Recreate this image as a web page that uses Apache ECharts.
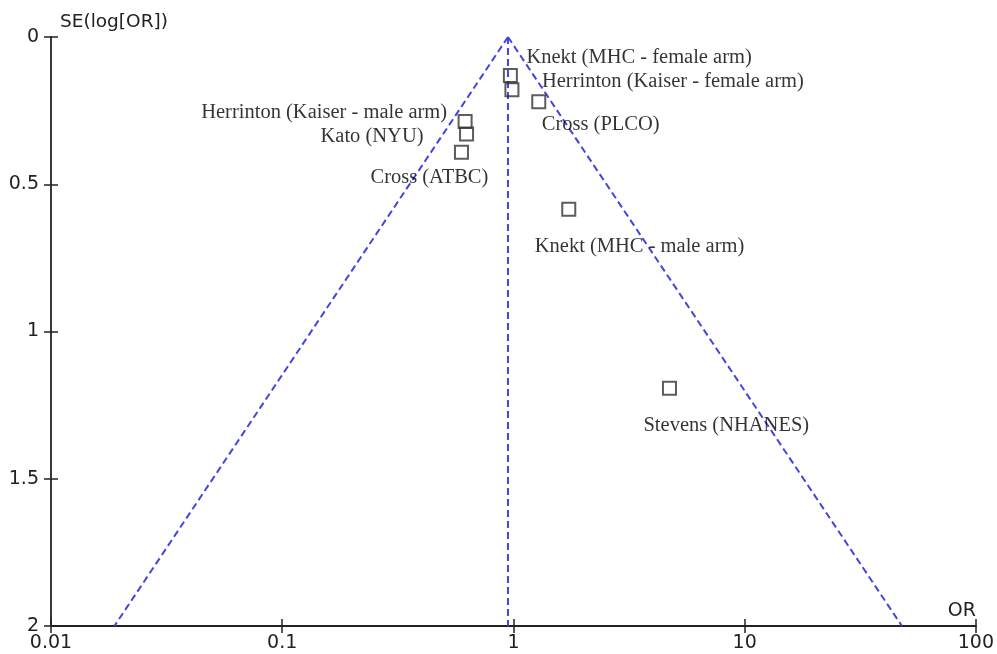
<!DOCTYPE html>
<html>
<head>
<meta charset="utf-8">
<script src="https://cdn.jsdelivr.net/npm/echarts@6/dist/echarts.min.js"></script>
<style>
html,body{margin:0;padding:0;background:#fff;}
#chart{width:997px;height:654px;}
</style>
</head>
<body>
<div id="chart"></div>
<script>
// ---- data ----
const studies = [
  'Knekt (MHC - female arm)',
  'Herrinton (Kaiser - female arm)',
  'Cross (PLCO)',
  'Herrinton (Kaiser - male arm)',
  'Kato (NYU)',
  'Cross (ATBC)',
  'Knekt (MHC - male arm)',
  'Stevens (NHANES)'
];
const oddsRatios     = [0.970, 0.985, 1.287, 0.618, 0.627, 0.596, 1.735, 4.73];
const standardErrors = [0.131, 0.179, 0.220, 0.287, 0.329, 0.391, 0.585, 1.193];

const pooledOR = 0.947;
const funnelLeftOR  = [0.947, 0.0188];
const funnelRightOR = [0.947, 47.9];
const funnelSE      = [0, 2];

const xTicks = [0.01, 0.1, 1, 10, 100];
const yTicks = [0, 0.5, 1, 1.5, 2];

// ---- label layout (pixel offsets from the marker centre) ----
const labelLayout = [
  {align:'left',  offset:[16,-18]},
  {align:'left',  offset:[30,-8]},
  {align:'left',  offset:[3,23]},
  {align:'right', offset:[-18,-9]},
  {align:'right', offset:[-43,3]},
  {align:'left',  offset:[-91,25]},
  {align:'left',  offset:[-34,37]},
  {align:'left',  offset:[-26,37]}
];

const points = studies.map((name, i) => ({
  name: name,
  value: [oddsRatios[i], standardErrors[i]],
  label: {
    show: true,
    position: 'inside',
    align: labelLayout[i].align,
    verticalAlign: 'middle',
    offset: labelLayout[i].offset,
    formatter: '{b}',
    fontFamily: '"Liberation Serif", "Times New Roman", serif',
    fontSize: 20.5,
    color: '#000'
  }
}));

const dashStyle = {color:'#4444e0', width:2, type:[7,4]};
const lineSeries = (xs, ys) => ({
  type: 'line',
  data: xs.map((x, i) => [x, ys[i]]),
  symbol: 'none',
  lineStyle: dashStyle,
  silent: true,
  z: 1
});

const sans = '"DejaVu Sans", sans-serif';
const axisColor = '#222';
const hiddenLine = {show: true, onZero: false, lineStyle: {color: 'rgba(0,0,0,0)', width: 0}};
const chart = echarts.init(document.getElementById('chart'), null, {renderer:'canvas'});
chart.setOption({
  animation: false,
  backgroundColor: '#fff',
  grid: {left: 51, right: 21, top: 37, bottom: 28, containLabel: false},
  xAxis: [{
    type: 'log', logBase: 10, min: xTicks[0], max: xTicks[xTicks.length-1],
    position: 'bottom',
    name: 'OR', nameLocation: 'end', nameGap: 1,
    nameTextStyle: {fontFamily: sans, fontSize: 19, color: axisColor, align:'right', verticalAlign:'bottom', padding:[0,1,5,0]},
    axisLine: {show: true, onZero: false, lineStyle: {color: axisColor, width:1.8}},
    axisTick: {show: true, length: 7, lineStyle: {color: axisColor, width:1.5}},
    axisLabel: {fontFamily: sans, fontSize: 19, color: axisColor, margin: 8,
      formatter: v => String(+v.toPrecision(3))},
    splitLine: {show: false}
  }, {
    type: 'log', logBase: 10, min: xTicks[0], max: xTicks[xTicks.length-1],
    position: 'bottom',
    axisLine: hiddenLine,
    axisTick: {show: true, inside: true, length: 7, lineStyle: {color: axisColor, width:1.5}},
    axisLabel: {show: false},
    splitLine: {show: false}
  }],
  yAxis: [{
    type: 'value', inverse: true, min: yTicks[0], max: yTicks[yTicks.length-1], interval: 0.5,
    position: 'left',
    name: 'SE(log[OR])', nameLocation: 'start', nameGap: 5,
    nameTextStyle: {fontFamily: sans, fontSize: 18.5, color: axisColor, align:'left', verticalAlign:'bottom', padding:[0,0,0,9]},
    axisLine: {show: true, onZero: false, lineStyle: {color: axisColor, width:1.8}},
    axisTick: {show: true, length: 7, lineStyle: {color: axisColor, width:1.5}},
    axisLabel: {fontFamily: sans, fontSize: 19, color: axisColor, margin: 12},
    splitLine: {show: false}
  }, {
    type: 'value', inverse: true, min: yTicks[0], max: yTicks[yTicks.length-1], interval: 0.5,
    position: 'left',
    axisLine: hiddenLine,
    axisTick: {show: true, inside: true, length: 7, lineStyle: {color: axisColor, width:1.5}},
    axisLabel: {show: false},
    splitLine: {show: false}
  }],
  series: [
    lineSeries(funnelLeftOR, funnelSE),
    lineSeries(funnelRightOR, funnelSE),
    lineSeries([pooledOR, pooledOR], funnelSE),
    {
      type: 'scatter',
      data: points,
      symbol: 'rect',
      symbolSize: 13,
      itemStyle: {color: 'rgba(255,255,255,0)', borderColor: '#333', borderWidth: 2},
      z: 3
    }
  ]
});
</script>
</body>
</html>
